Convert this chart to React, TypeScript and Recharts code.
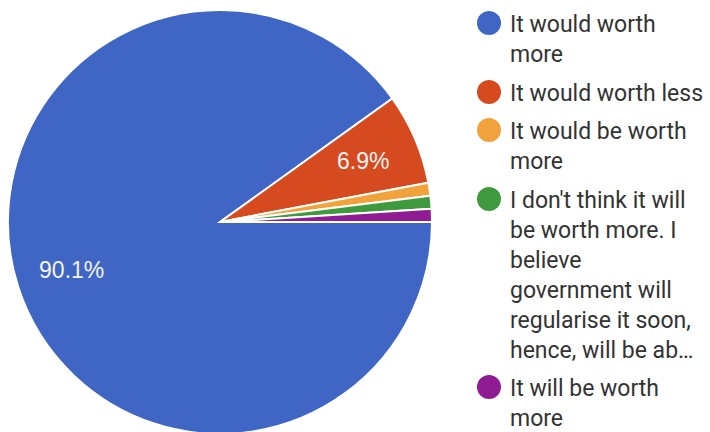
import React from "react";
import { PieChart, Pie, Cell, Legend } from "recharts";

const categories = [
  "It would worth\nmore",
  "It would worth less",
  "It would be worth\nmore",
  "I don't think it will\nbe worth more. I\nbelieve\ngovernment will\nregularise it soon,\nhence, will be ab…",
  "It will be worth\nmore",
];
const responses = [91, 7, 1, 1, 1];
const colors = ["#3f66c5", "#d64a1f", "#f2a23a", "#3e9a3c", "#8f1c92"];

const data = categories.map((name, i) => ({ name, value: responses[i], fill: colors[i] }));

const RAD = Math.PI / 180;

function renderLabel(props: any) {
  const { cx, cy, midAngle, outerRadius, percent } = props;
  if (percent < 0.05) return null;
  const r = outerRadius * 0.735;
  const x = cx + r * Math.cos(-midAngle * RAD);
  const y = cy + r * Math.sin(-midAngle * RAD);
  return (
    <text
      x={x}
      y={y}
      fill="#f4f4f4"
      fontSize={23}
      fontFamily="'Liberation Sans', Arial, sans-serif"
      textAnchor="middle"
      dominantBaseline="central"
    >
      {(percent * 100).toFixed(1)}%
    </text>
  );
}

function LegendContent(props: any) {
  const items = [...(props.payload || [])].sort(
    (a: any, b: any) => categories.indexOf(a.value) - categories.indexOf(b.value)
  );
  return (
    <div style={{ fontFamily: "Roboto, Arial, sans-serif", fontSize: 23, color: "#333" }}>
      {items.map((entry: any, i: number) => {
        const lines = String(entry.value).split("\n");
        return (
          <div key={i} style={{ display: "flex", alignItems: "flex-start", marginBottom: 8.5 }}>
            <span
              style={{
                width: 24,
                height: 24,
                borderRadius: "50%",
                background: entry.color,
                marginTop: 1,
                marginRight: 9,
                flexShrink: 0,
              }}
            />
            <div style={{ lineHeight: "30px" }}>
              {lines.map((l: string, j: number) => (
                <div key={j} style={{ whiteSpace: "nowrap" }}>{l}</div>
              ))}
            </div>
          </div>
        );
      })}
    </div>
  );
}

export default function App() {
  return (
    <div style={{ position: "absolute", left: 0, top: 0, width: 710, height: 432, background: "#fff" }}>
      <PieChart width={710} height={432} margin={{ top: 0, right: 0, bottom: 0, left: 0 }}>
        <Pie
          data={data}
          dataKey="value"
          nameKey="name"
          cx={220}
          cy={222}
          outerRadius={212}
          startAngle={0}
          endAngle={-360}
          stroke="#ffffff"
          strokeWidth={2}
          label={renderLabel}
          labelLine={false}
          isAnimationActive={false}
        >
          {data.map((d, i) => (
            <Cell key={i} fill={d.fill} />
          ))}
        </Pie>
        <Legend
          layout="vertical"
          align="right"
          verticalAlign="top"
          content={LegendContent}
          wrapperStyle={{ left: 477, top: 10, width: 233 }}
        />
      </PieChart>
    </div>
  );
}
